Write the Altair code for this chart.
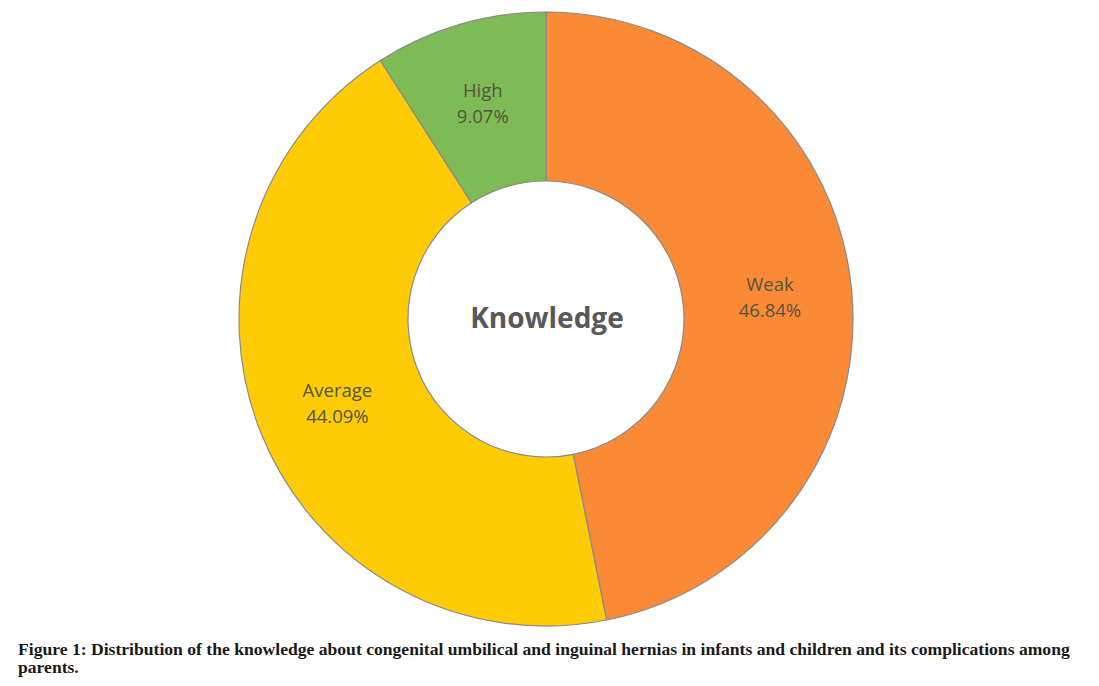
import altair as alt
import pandas as pd

categories = ["Weak", "Average", "High"]
values = [46.84, 44.09, 9.07]
labels = ["Weak\n46.84%", "Average\n44.09%", "High\n9.07%"]
colors = ["#FB8A36", "#FFCB05", "#7EBB55"]
center_title = "Knowledge"
caption_lines = [
    "Figure 1: Distribution of the knowledge about congenital umbilical and inguinal hernias in infants and children and its complications among",
    "parents.",
]

df = pd.DataFrame({
    "category": categories,
    "value": values,
    "label": labels,
    "order": list(range(len(categories))),
})

CX, CY = 546, 319

base = alt.Chart(df).encode(
    theta=alt.Theta("value:Q", stack=True),
    order=alt.Order("order:Q"),
)

arcs = base.mark_arc(outerRadius=307, innerRadius=138, stroke="#8a8a8a", strokeWidth=1.2).encode(
    color=alt.Color("category:N", scale=alt.Scale(domain=categories, range=colors), legend=None),
    x=alt.value(CX),
    y=alt.value(CY),
)

text = base.mark_text(radius=225, font="Open Sans", fontSize=18.5, color="#55553f",
                      lineBreak="\n", lineHeight=26, dy=-12, align="center", baseline="middle").encode(
    text="label:N",
    x=alt.value(CX),
    y=alt.value(CY),
)

center = alt.Chart(pd.DataFrame({"t": [center_title]})).mark_text(
    font="Open Sans", fontSize=28, fontWeight="bold", color="#595959", align="center", baseline="middle"
).encode(text="t:N", x=alt.value(CX + 1), y=alt.value(CY + 1))

cap_style = dict(font="Liberation Serif", fontSize=17.6, fontWeight="bold", color="#1a1a1a",
                 align="left", baseline="alphabetic")
caption = alt.Chart(pd.DataFrame({"t": [caption_lines[0]]})).mark_text(**cap_style).encode(
    text="t:N", x=alt.value(18), y=alt.value(655))
caption2 = alt.Chart(pd.DataFrame({"t": [caption_lines[1]]})).mark_text(**cap_style).encode(
    text="t:N", x=alt.value(18), y=alt.value(673))

chart = alt.layer(arcs, text, center, caption, caption2).properties(
    width=1099, height=686, padding=0, autosize=alt.AutoSizeParams(type="none"), background="white"
).configure_view(stroke=None)

chart.save("out.html", embed_options={"renderer": "svg", "actions": False})
